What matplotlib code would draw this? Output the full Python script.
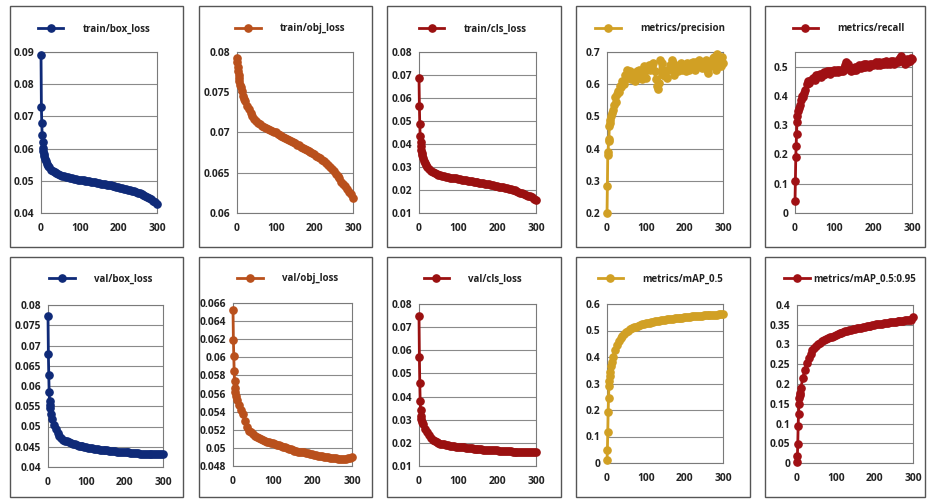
import matplotlib
matplotlib.use("Agg")
import matplotlib.pyplot as plt
from matplotlib.patches import Rectangle

plt.rcParams['font.family'] = ['Open Sans', 'DejaVu Sans']

W, H = 928, 500

# ---------------- data ----------------
titles = ["train/box_loss", "train/obj_loss", "train/cls_loss", "metrics/precision", "metrics/recall",
          "val/box_loss", "val/obj_loss", "val/cls_loss", "metrics/mAP_0.5", "metrics/mAP_0.5:0.95"]

colors = ["#0f2a78", "#b9501c", "#9a1010", "#d1a024", "#a01014",
          "#0f2a78", "#b9501c", "#9a1010", "#d1a024", "#a01014"]

x_ticks = [0, 100, 200, 300]

tail5 = list(range(40, 301, 5))     # epochs 40, 45, ..., 300
tail3 = list(range(48, 301, 3))     # epochs 48, 51, ..., 300

box_ep = [0, 1, 2, 3, 4, 5, 6, 7, 8, 10, 12, 15, 18, 20, 25, 30, 35] + tail5
box_val = [0.0892, 0.0729, 0.0680, 0.0642, 0.0619, 0.0603, 0.0592, 0.0584, 0.0577, 0.0567, 0.0560,
           0.0552, 0.0546, 0.0542, 0.0535, 0.0530, 0.0526,
           0.0523, 0.0520, 0.0518, 0.0516, 0.0514, 0.0512, 0.0511, 0.0509, 0.0508, 0.0507,
           0.0506, 0.0504, 0.0503, 0.0502, 0.0501, 0.0500, 0.0499, 0.0498, 0.0497, 0.0496,
           0.0495, 0.0494, 0.0493, 0.0491, 0.0490, 0.0489, 0.0488, 0.0487, 0.0486, 0.0484,
           0.0483, 0.0481, 0.0480, 0.0478, 0.0477, 0.0475, 0.0474, 0.0472, 0.0471, 0.0469,
           0.0467, 0.0465, 0.0463, 0.0461, 0.0458, 0.0455, 0.0452, 0.0449, 0.0446, 0.0442,
           0.0438, 0.0433, 0.0428]

obj_ep = [0, 1, 2, 3, 4, 5, 6, 8, 10, 12, 15, 18, 20, 25, 30, 35] + tail5
obj_val = [0.0792, 0.0787, 0.0781, 0.0777, 0.0772, 0.0768, 0.0764, 0.0759, 0.0756, 0.0751, 0.0745,
           0.0741, 0.0739, 0.0733, 0.0729, 0.0724,
           0.0720, 0.0717, 0.0714, 0.0712, 0.0710, 0.0708, 0.0707, 0.0705, 0.0704, 0.0703,
           0.0702, 0.0701, 0.0700, 0.0698, 0.0697, 0.0696, 0.0695, 0.0693, 0.0692, 0.0691,
           0.0690, 0.0688, 0.0687, 0.0685, 0.0684, 0.0682, 0.0681, 0.0680, 0.0678, 0.0677,
           0.0676, 0.0674, 0.0673, 0.0671, 0.0669, 0.0668, 0.0666, 0.0664, 0.0662, 0.0660,
           0.0657, 0.0655, 0.0652, 0.0649, 0.0646, 0.0643, 0.0639, 0.0636, 0.0633, 0.0630,
           0.0626, 0.0623, 0.0619]

cls_ep = [0, 1, 2, 3, 4, 5, 6, 7, 8, 10, 12, 15, 18, 20, 25, 30, 35] + tail5
cls_val = [0.0685, 0.0565, 0.0485, 0.0435, 0.0410, 0.0390, 0.0375, 0.0362, 0.0352, 0.0338, 0.0327,
           0.0316, 0.0307, 0.0302, 0.0292, 0.0284, 0.0279,
           0.0274, 0.0270, 0.0267, 0.0264, 0.0262, 0.0260, 0.0258, 0.0256, 0.0254, 0.0253,
           0.0251, 0.0250, 0.0248, 0.0247, 0.0245, 0.0244, 0.0242, 0.0241, 0.0239, 0.0238,
           0.0236, 0.0235, 0.0233, 0.0232, 0.0230, 0.0229, 0.0227, 0.0226, 0.0224, 0.0222,
           0.0220, 0.0219, 0.0217, 0.0215, 0.0213, 0.0211, 0.0209, 0.0207, 0.0205, 0.0203,
           0.0200, 0.0198, 0.0195, 0.0192, 0.0189, 0.0186, 0.0183, 0.0180, 0.0176, 0.0172,
           0.0168, 0.0163, 0.0158]

prec_ep = [0, 1, 2, 3, 4, 5, 6, 7, 8, 10, 12, 15, 18, 20, 22, 25, 28, 30, 33, 36, 40, 43, 46] + tail3
prec_val = [0.200, 0.285, 0.380, 0.390, 0.425, 0.430, 0.470, 0.490, 0.480, 0.500, 0.510, 0.520,
            0.535, 0.560, 0.545, 0.570, 0.580, 0.575, 0.595, 0.590, 0.610, 0.600, 0.630,
            0.625, 0.645, 0.620, 0.635, 0.640, 0.615, 0.635, 0.625, 0.610, 0.630, 0.640, 0.620,
            0.645, 0.630, 0.615, 0.645, 0.655, 0.640, 0.620, 0.650, 0.660, 0.645, 0.660, 0.655,
            0.665, 0.640, 0.615, 0.595, 0.585, 0.605, 0.675, 0.665, 0.630, 0.645, 0.625, 0.640,
            0.620, 0.645, 0.660, 0.650, 0.675, 0.665, 0.630, 0.645, 0.655, 0.640, 0.660, 0.650,
            0.665, 0.645, 0.660, 0.650, 0.640, 0.665, 0.655, 0.645, 0.665, 0.650, 0.670, 0.655,
            0.645, 0.670, 0.660, 0.675, 0.655, 0.665, 0.650, 0.670, 0.660, 0.675, 0.645, 0.635,
            0.665, 0.655, 0.670, 0.680, 0.685, 0.655, 0.645, 0.695, 0.680, 0.670, 0.655, 0.685,
            0.665]

rec_ep = [0, 1, 2, 3, 4, 5, 6, 8, 10, 13, 15, 18, 20, 23, 26, 30, 33, 36, 40, 45] + tail3
rec_val = [0.040, 0.110, 0.190, 0.230, 0.270, 0.310, 0.330, 0.350, 0.360, 0.370, 0.385, 0.400,
           0.395, 0.410, 0.420, 0.440, 0.450, 0.445, 0.455, 0.460,
           0.460, 0.455, 0.470, 0.465, 0.470, 0.475, 0.465, 0.475, 0.470, 0.480, 0.475, 0.485,
           0.480, 0.485, 0.475, 0.485, 0.480, 0.490, 0.480, 0.485, 0.490, 0.480, 0.490, 0.485,
           0.490, 0.485, 0.495, 0.505, 0.515, 0.510, 0.495, 0.490, 0.485, 0.495, 0.490, 0.500,
           0.490, 0.500, 0.495, 0.505, 0.495, 0.505, 0.500, 0.510, 0.500, 0.510, 0.505, 0.500,
           0.510, 0.505, 0.510, 0.505, 0.510, 0.515, 0.505, 0.510, 0.515, 0.505, 0.510, 0.515,
           0.510, 0.515, 0.520, 0.510, 0.515, 0.510, 0.520, 0.515, 0.520, 0.510, 0.515, 0.520,
           0.515, 0.525, 0.530, 0.535, 0.525, 0.515, 0.510, 0.520, 0.525, 0.515, 0.520, 0.530,
           0.525]

vbox_ep = [0, 1, 2, 3, 4, 5, 6, 8, 10, 15, 20, 25, 30, 35] + tail5
vbox_val = [0.0772, 0.0678, 0.0628, 0.0585, 0.0563, 0.0552, 0.0545, 0.0530, 0.0519, 0.0503, 0.0493,
            0.0484, 0.0477, 0.0471,
            0.0467, 0.0465, 0.0463, 0.0461, 0.0459, 0.0458, 0.0456, 0.0455, 0.0453, 0.0452,
            0.0451, 0.0450, 0.0449, 0.0448, 0.0447, 0.0446, 0.0445, 0.0445, 0.0444, 0.0443,
            0.0443, 0.0442, 0.0441, 0.0441, 0.0440, 0.0440, 0.0439, 0.0439, 0.0438, 0.0438,
            0.0437, 0.0437, 0.0436, 0.0436, 0.0436, 0.0435, 0.0435, 0.0434, 0.0434, 0.0434,
            0.0433, 0.0433, 0.0433, 0.0433, 0.0432, 0.0432, 0.0432, 0.0432, 0.0432, 0.0432,
            0.0432, 0.0432, 0.0432]

vobj_ep = [0, 1, 2, 3, 4, 5, 6, 8, 10, 15, 20, 25, 30, 35] + tail5
vobj_val = [0.0652, 0.0619, 0.0601, 0.0585, 0.0574, 0.0566, 0.0562, 0.0557, 0.0553, 0.0547, 0.0542,
            0.0537, 0.0530, 0.0523,
            0.0519, 0.0517, 0.0515, 0.0513, 0.0512, 0.0511, 0.0510, 0.0509, 0.0508, 0.0507,
            0.0506, 0.0505, 0.0505, 0.0504, 0.0503, 0.0503, 0.0502, 0.0501, 0.0501, 0.0500,
            0.0499, 0.0499, 0.0498, 0.0497, 0.0497, 0.0496, 0.0496, 0.0495, 0.0495, 0.0494,
            0.0494, 0.0493, 0.0493, 0.0492, 0.0492, 0.0491, 0.0491, 0.0491, 0.0490, 0.0490,
            0.0490, 0.0489, 0.0489, 0.0489, 0.0489, 0.0488, 0.0488, 0.0488, 0.0488, 0.0488,
            0.0489, 0.0489, 0.0490]

vcls_ep = [0, 1, 2, 3, 4, 5, 6, 8, 10, 15, 20, 25, 30, 35] + tail5
vcls_val = [0.0747, 0.0570, 0.0458, 0.0383, 0.0340, 0.0315, 0.0305, 0.0292, 0.0283, 0.0262, 0.0245,
            0.0232, 0.0222, 0.0214,
            0.0208, 0.0204, 0.0200, 0.0197, 0.0195, 0.0193, 0.0191, 0.0190, 0.0188, 0.0187,
            0.0185, 0.0184, 0.0183, 0.0182, 0.0181, 0.0180, 0.0179, 0.0178, 0.0177, 0.0176,
            0.0175, 0.0174, 0.0173, 0.0172, 0.0172, 0.0171, 0.0170, 0.0169, 0.0169, 0.0168,
            0.0168, 0.0167, 0.0167, 0.0166, 0.0165, 0.0165, 0.0164, 0.0164, 0.0163, 0.0163,
            0.0162, 0.0162, 0.0162, 0.0161, 0.0161, 0.0160, 0.0160, 0.0160, 0.0159, 0.0159,
            0.0159, 0.0159, 0.0159]

map5_ep = [0, 1, 2, 3, 4, 5, 6, 7, 8, 10, 12, 15, 20, 25, 30, 35] + tail5
map5_val = [0.010, 0.050, 0.116, 0.192, 0.245, 0.289, 0.310, 0.330, 0.345, 0.365, 0.380, 0.400,
            0.425, 0.445, 0.460, 0.470,
            0.480, 0.488, 0.495, 0.500, 0.505, 0.509, 0.512, 0.515, 0.518, 0.520,
            0.523, 0.525, 0.527, 0.529, 0.530, 0.532, 0.533, 0.535, 0.536, 0.537,
            0.538, 0.540, 0.541, 0.542, 0.543, 0.544, 0.545, 0.546, 0.547, 0.548,
            0.549, 0.549, 0.550, 0.551, 0.552, 0.552, 0.553, 0.554, 0.555, 0.555,
            0.556, 0.556, 0.557, 0.557, 0.558, 0.558, 0.559, 0.559, 0.560, 0.560,
            0.561, 0.562, 0.564]

map95_ep = [0, 1, 2, 3, 4, 5, 6, 7, 8, 10, 15, 20, 25, 30, 35] + tail5
map95_val = [0.003, 0.018, 0.048, 0.093, 0.124, 0.149, 0.165, 0.172, 0.178, 0.190, 0.215, 0.235,
             0.252, 0.266, 0.277,
             0.286, 0.292, 0.297, 0.301, 0.305, 0.308, 0.311, 0.314, 0.316, 0.318,
             0.320, 0.322, 0.324, 0.326, 0.328, 0.330, 0.331, 0.333, 0.334, 0.336,
             0.337, 0.338, 0.340, 0.341, 0.342, 0.343, 0.344, 0.345, 0.346, 0.347,
             0.348, 0.349, 0.350, 0.351, 0.352, 0.352, 0.353, 0.354, 0.355, 0.355,
             0.356, 0.357, 0.357, 0.358, 0.359, 0.359, 0.360, 0.360, 0.361, 0.361,
             0.362, 0.363, 0.370]

epochs = [box_ep, obj_ep, cls_ep, prec_ep, rec_ep, vbox_ep, vobj_ep, vcls_ep, map5_ep, map95_ep]
values = [box_val, obj_val, cls_val, prec_val, rec_val, vbox_val, vobj_val, vcls_val, map5_val, map95_val]

y_limits = [(0.04, 0.09), (0.06, 0.08), (0.01, 0.08), (0.2, 0.7), (0.0, 0.55),
            (0.04, 0.08), (0.048, 0.066), (0.01, 0.08), (0.0, 0.6), (0.0, 0.4)]
y_ticks = [[0.04, 0.05, 0.06, 0.07, 0.08, 0.09],
           [0.06, 0.065, 0.07, 0.075, 0.08],
           [0.01, 0.02, 0.03, 0.04, 0.05, 0.06, 0.07, 0.08],
           [0.2, 0.3, 0.4, 0.5, 0.6, 0.7],
           [0.0, 0.1, 0.2, 0.3, 0.4, 0.5],
           [0.04, 0.045, 0.05, 0.055, 0.06, 0.065, 0.07, 0.075, 0.08],
           [0.048, 0.05, 0.052, 0.054, 0.056, 0.058, 0.06, 0.062, 0.064, 0.066],
           [0.01, 0.02, 0.03, 0.04, 0.05, 0.06, 0.07, 0.08],
           [0.0, 0.1, 0.2, 0.3, 0.4, 0.5, 0.6],
           [0.0, 0.05, 0.1, 0.15, 0.2, 0.25, 0.3, 0.35, 0.4]]

# ---------------- layout (pixels) ----------------
axes_px = [(41, 157, 52, 213), (237, 353, 52, 213), (419, 536, 52, 213), (607, 723, 52, 213),
           (795, 912, 52, 213),
           (48, 163, 305, 467), (233, 352, 303, 466), (419, 536, 304, 466), (607, 723, 304, 463),
           (797, 913, 305, 463)]
panel_cols = [(10, 183), (199, 372), (387, 561), (576, 750), (765, 925)]
panel_rows = [(6, 247), (257, 497)]

fig = plt.figure(figsize=(W / 100, H / 100), dpi=100)
fig.patch.set_facecolor("white")

for (t, b) in panel_rows:
    for (l, rr) in panel_cols:
        fig.patches.append(Rectangle((l / W, 1 - b / H), (rr - l) / W, (b - t) / H,
                                     transform=fig.transFigure, fill=False,
                                     edgecolor="#555555", linewidth=1.0, zorder=0))


def fmt(v):
    s = ("%.3f" % v).rstrip("0").rstrip(".")
    return s if s else "0"


for i in range(10):
    assert len(epochs[i]) == len(values[i]), (i, len(epochs[i]), len(values[i]))
    l, r, t, b = axes_px[i]
    ax = fig.add_axes([l / W, 1 - b / H, (r - l) / W, (b - t) / H])
    ax.plot(epochs[i], values[i], color=colors[i], marker="o", markersize=5.2,
            linewidth=2.0, clip_on=False, label=titles[i], zorder=3)
    ax.set_xlim(0, 300)
    ax.set_ylim(*y_limits[i])
    ax.set_xticks(x_ticks)
    ax.set_xticklabels([str(v) for v in x_ticks])
    ax.set_yticks(y_ticks[i])
    ax.set_yticklabels([fmt(v) for v in y_ticks[i]])
    ax.yaxis.grid(True, color="#8a8a8a", linewidth=0.8)
    ax.set_axisbelow(True)
    for sp in ax.spines.values():
        sp.set_color("#7a7a7a")
        sp.set_linewidth(0.8)
    ax.tick_params(length=0, labelsize=7.4, colors="#222222")
    ax.tick_params(axis="x", pad=7)
    ax.tick_params(axis="y", pad=5)
    for lab in ax.get_xticklabels() + ax.get_yticklabels():
        lab.set_fontweight("bold")
    leg_y = 1 + (t - (29 if i < 5 else 279)) / (b - t)
    leg = ax.legend(loc="center", bbox_to_anchor=(0.46, leg_y), frameon=False,
                    handlelength=2.6, handletextpad=2.0 if i != 9 else 0.4,
                    prop={"size": 7.0, "weight": "bold"}, borderaxespad=0)
    for txt in leg.get_texts():
        txt.set_color("#222222")

fig.savefig("out.png", dpi=100, facecolor="white")
